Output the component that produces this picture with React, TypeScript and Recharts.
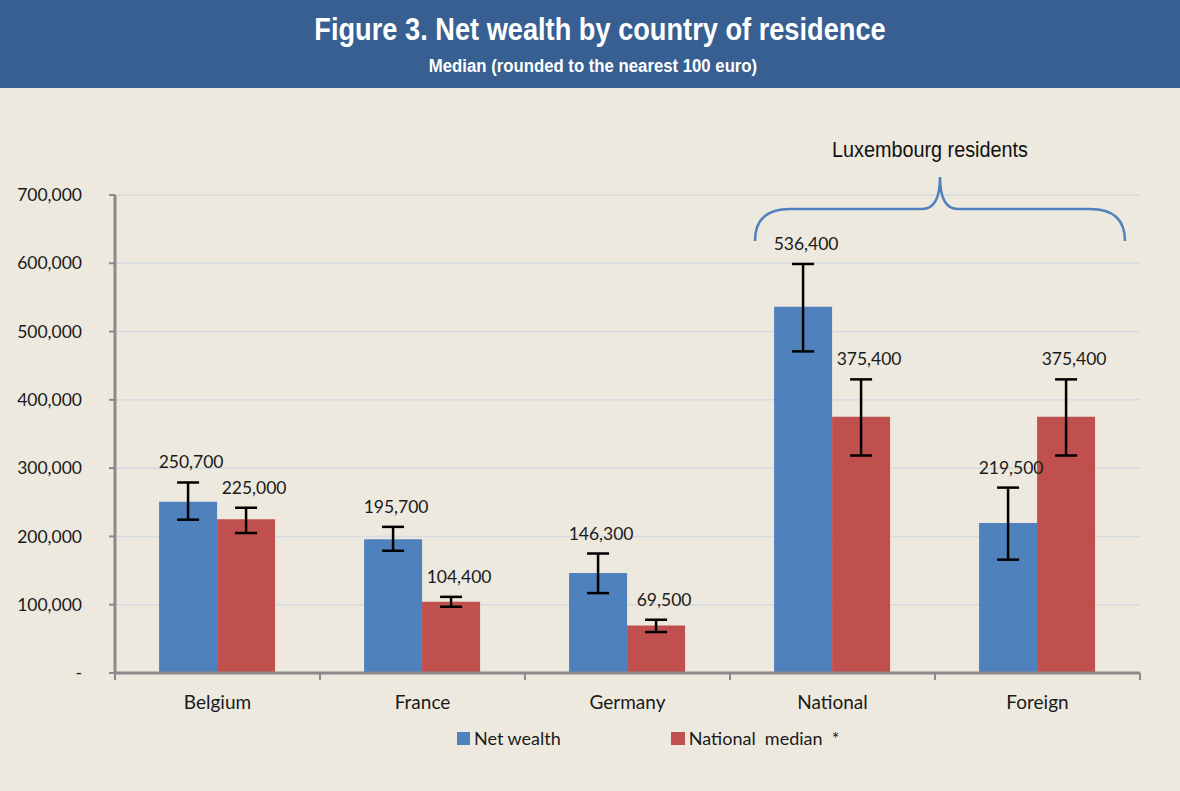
import {
  BarChart, Bar, XAxis, YAxis, CartesianGrid, ErrorBar, LabelList,
} from 'recharts'

const categories = ['Belgium', 'France', 'Germany', 'National', 'Foreign']
const netWealth = [250700, 195700, 146300, 536400, 219500]
const nationalMedian = [225000, 104400, 69500, 375400, 375400]
const netWealthLow = [224500, 179000, 117000, 471000, 166000]
const netWealthHigh = [279000, 214000, 175000, 599000, 271500]
const medianLow = [205000, 97000, 60000, 318500, 318500]
const medianHigh = [242000, 111500, 78000, 430000, 430000]
const yTicks = [0, 100000, 200000, 300000, 400000, 500000, 600000, 700000]

const BG = '#ede9df'
const BLUE = '#4f81bd'
const RED = '#c0504d'
const AXIS = '#8a8a8a'
const BODY_FONT = "Lato, 'Open Sans', sans-serif"
const HEAD_FONT = "'Liberation Sans', Arial, sans-serif"

const data = categories.map((name, i) => ({
  name,
  nw: netWealth[i],
  nm: nationalMedian[i],
  nwErr: [netWealth[i] - netWealthLow[i], netWealthHigh[i] - netWealth[i]],
  nmErr: [nationalMedian[i] - medianLow[i], medianHigh[i] - nationalMedian[i]],
}))

const fmt = (v: number) => (v === 0 ? '-' : v.toLocaleString('en-US'))

// label sits above the error bar cap, not the bar top
const makeLabel = (high: number[], dx: number) => (props: any) => {
  const { x, y, width, height, value, index } = props
  const pxPerUnit = height / value
  const capY = y - (high[index] - value) * pxPerUnit
  return (
    <text x={x + width / 2 + dx} y={capY - 14} textAnchor="middle"
      fontSize={17.5} fontFamily={BODY_FONT} fill="#1a1a1a">
      {fmt(value)}
    </text>
  )
}

const CategoryTick = (props: any) => {
  const { x, y, payload } = props
  const half = 102.5
  return (
    <g>
      <line x1={x - half} y1={y - 8} x2={x - half} y2={y - 1} stroke={AXIS} strokeWidth={2} />
      {payload.index === categories.length - 1 && (
        <line x1={x + half} y1={y - 8} x2={x + half} y2={y - 1} stroke={AXIS} strokeWidth={2} />
      )}
      <text x={x} y={y + 28} textAnchor="middle" fontSize={19} fontFamily={BODY_FONT} fill="#1a1a1a">
        {payload.value}
      </text>
    </g>
  )
}

export default function App() {
  return (
    <div style={{ position: 'absolute', top: 0, left: 0, width: 1180, height: 791, background: BG, overflow: 'hidden' }}>
      <div style={{ height: 88, background: '#385f91', color: '#fff', textAlign: 'center', fontFamily: HEAD_FONT, fontWeight: 'bold' }}>
        <div style={{ fontSize: 32, paddingTop: 11, lineHeight: '37px', transform: 'translateX(10px) scaleX(0.85)' }}>
          Figure 3. Net wealth by country of residence
        </div>
        <div style={{ fontSize: 18, paddingTop: 8, lineHeight: '20px', transform: 'translateX(3px) scaleX(0.93)' }}>
          Median (rounded to the nearest 100 euro)
        </div>
      </div>

      <div style={{ position: 'absolute', top: 0, left: 0 }}>
        <BarChart width={1180} height={791} data={data}
          margin={{ top: 195, right: 40, bottom: 58, left: 0 }}
          barCategoryGap="21.5%" barGap={0}>
          <CartesianGrid vertical={false} stroke="#d6dbe0" strokeWidth={1.5} />
          <XAxis dataKey="name" axisLine={{ stroke: AXIS, strokeWidth: 3 }} tickLine={false}
            tick={<CategoryTick />} interval={0} height={60} />
          <YAxis width={115} domain={[0, 700000]} ticks={yTicks} tickFormatter={fmt}
            axisLine={{ stroke: AXIS, strokeWidth: 3 }} tickLine={{ stroke: AXIS, strokeWidth: 2 }}
            tickSize={6} tickMargin={27}
            tick={{ fontSize: 17.5, fontFamily: BODY_FONT, fill: '#1a1a1a' }} />
          <Bar dataKey="nw" name="Net wealth" fill={BLUE} isAnimationActive={false}>
            <ErrorBar dataKey="nwErr" direction="y" width={11} stroke="#000" strokeWidth={2.5} />
            <LabelList dataKey="nw" content={makeLabel(netWealthHigh, 3)} />
          </Bar>
          <Bar dataKey="nm" name="National median *" fill={RED} isAnimationActive={false}>
            <ErrorBar dataKey="nmErr" direction="y" width={11} stroke="#000" strokeWidth={2.5} />
            <LabelList dataKey="nm" content={makeLabel(medianHigh, 8)} />
          </Bar>
        </BarChart>
      </div>

      <div style={{ position: 'absolute', top: 727, left: 457, display: 'flex', gap: 110, fontFamily: BODY_FONT, fontSize: 18, color: '#1a1a1a' }}>
        <span style={{ display: 'flex', alignItems: 'center' }}>
          <span style={{ width: 13, height: 13, background: BLUE, marginRight: 4, display: 'inline-block' }} />
          Net wealth
        </span>
        <span style={{ display: 'flex', alignItems: 'center' }}>
          <span style={{ width: 14, height: 13, background: RED, marginRight: 4, display: 'inline-block' }} />
          National&nbsp;&nbsp;median&nbsp;&nbsp;*
        </span>
      </div>

      <div style={{ position: 'absolute', top: 137, left: 740, width: 380, textAlign: 'center', fontFamily: HEAD_FONT, fontSize: 22, color: '#111', transform: 'scaleX(0.9)' }}>
        Luxembourg residents
      </div>
      <svg style={{ position: 'absolute', top: 0, left: 0 }} width={1180} height={791} pointerEvents="none">
        <path d="M755,241 Q755,209 790,209 L922,209 Q940,209 940,177 Q940,209 958,209 L1090,209 Q1125,209 1125,241"
          fill="none" stroke="#4f81bd" strokeWidth={2.5} />
      </svg>
    </div>
  )
}
